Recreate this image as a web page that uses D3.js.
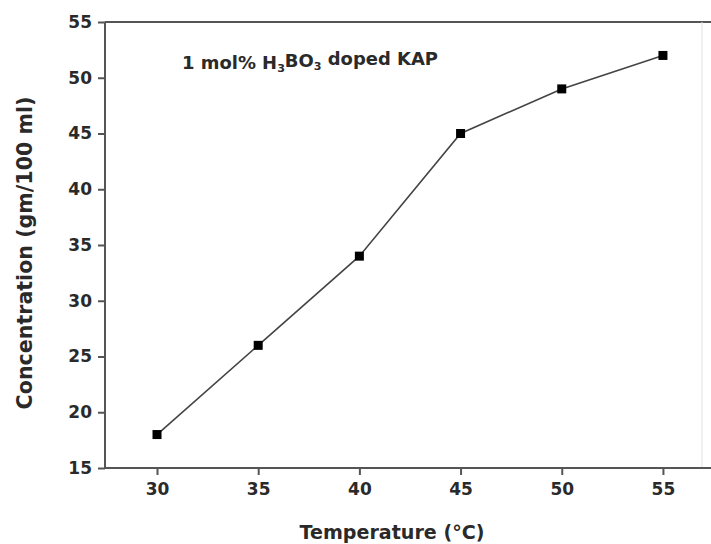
<!DOCTYPE html>
<html>
<head>
<meta charset="utf-8">
<script src="https://cdn.jsdelivr.net/npm/d3@7"></script>
<style>
  html, body { margin: 0; padding: 0; background: #fff; }
  svg { display: block; }
  text { font-family: "DejaVu Sans", "Liberation Sans", Arial, sans-serif; font-weight: bold; fill: #2a2a2a; }
</style>
</head>
<body>
<svg id="chart" width="711" height="544"></svg>
<script>
const temperatures = [30, 35, 40, 45, 50, 55];
const concentrations = [18, 26, 34, 45, 49, 52];
const xTicks = [30, 35, 40, 45, 50, 55];
const yTicks = [15, 20, 25, 30, 35, 40, 45, 50, 55];

(function () {
const svg = d3.select("#chart");
const W = 711, H = 544;
const pL = 105, pR = 702, pT = 22, pB = 468;
const FONT = "DejaVu Sans, Liberation Sans, Arial, sans-serif";

const x = d3.scaleLinear().domain([27.43, 56.93]).range([pL, pR]);
const y = d3.scaleLinear().domain([15, 55]).range([pB, pT]);

// frame lines
svg.append("line").attr("x1", pL).attr("x2", W).attr("y1", pT).attr("y2", pT)
  .attr("stroke", "#555").attr("stroke-width", 2);
svg.append("line").attr("x1", pR).attr("x2", pR).attr("y1", pT).attr("y2", pB)
  .attr("stroke", "#e2e2e2").attr("stroke-width", 1);

const xAxis = svg.append("g").attr("transform", `translate(0,${pB})`)
  .call(d3.axisBottom(x).tickValues(xTicks).tickSize(7).tickPadding(8).tickFormat(d3.format("d")));
const yAxis = svg.append("g").attr("transform", `translate(${pL},0)`)
  .call(d3.axisLeft(y).tickValues(yTicks).tickSize(7).tickPadding(6).tickFormat(d3.format("d")));

[xAxis, yAxis].forEach(g => {
  g.select(".domain").attr("stroke", "#555").attr("stroke-width", 2);
  g.selectAll(".tick line").attr("stroke", "#555").attr("stroke-width", 2);
  g.selectAll(".tick text").attr("font-size", 17).attr("fill", "#2a2a2a")
    .attr("font-family", FONT).attr("font-weight", "bold");
});
xAxis.select(".domain").attr("d", `M${pL},0H${W}`);
yAxis.select(".domain").attr("d", `M0,${pT}V${pB}`);

// line
const line = d3.line().x((d, i) => x(temperatures[i])).y(d => y(d));
svg.append("path").datum(concentrations)
  .attr("d", line).attr("fill", "none").attr("stroke", "#444").attr("stroke-width", 1.6);

// markers
const ms = 9;
svg.selectAll("rect.pt").data(concentrations).enter().append("rect")
  .attr("class", "pt")
  .attr("x", (d, i) => x(temperatures[i]) - ms / 2)
  .attr("y", d => y(d) - ms / 2)
  .attr("width", ms).attr("height", ms).attr("fill", "#000");

function fit(sel, target, base) {
  const w = sel.node().getComputedTextLength();
  if (w > 0) sel.attr("font-size", base * target / w);
}

// annotation
const ann = svg.append("text").attr("x", 182).attr("y", 69).attr("font-size", 16);
ann.append("tspan").text("1 mol% H");
ann.append("tspan").text("3").attr("font-size", "0.62em").attr("dy", "0.3em");
ann.append("tspan").text("BO").attr("dy", "-0.3em");
ann.append("tspan").text("3").attr("font-size", "0.62em").attr("dy", "0.3em");
ann.append("tspan").text(" doped KAP").attr("dy", "-0.3em");
fit(ann, 256, 16);

// axis titles
const xt = svg.append("text").attr("x", 392).attr("y", 539).attr("text-anchor", "middle")
  .attr("font-size", 17).text("Temperature (°C)");
fit(xt, 185, 17);
const yt = svg.append("text").attr("transform", `translate(32,253) rotate(-90)`)
  .attr("text-anchor", "middle").attr("font-size", 17).text("Concentration (gm/100 ml)");
fit(yt, 313, 17);
})();
</script>
</body>
</html>
